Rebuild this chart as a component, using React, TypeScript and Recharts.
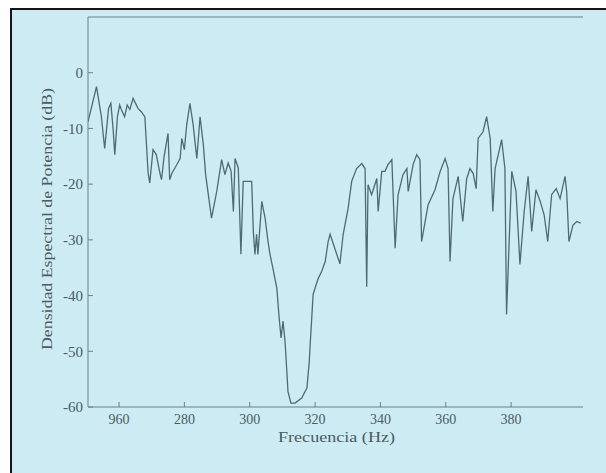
import { LineChart, Line, XAxis, YAxis, ReferenceLine, Label } from "recharts";

// Frequency (Hz) and PSD (dB)
const freqs = [
  250.5, 253.1, 254.6, 255.6, 256.8, 257.5, 258.2, 258.7, 259.5, 260.2,
  260.7, 261.7, 262.5, 263.3, 264.3, 265.8, 266.8, 267.9, 268.9, 269.4,
  270.4, 271.4, 272.5, 273.0, 273.8, 275.0, 275.5, 276.2, 277.1, 278.7,
  279.2, 280.0, 280.7, 281.7, 282.7, 283.8, 284.8, 285.8, 286.5, 288.3,
  289.9, 291.4, 292.4, 293.4, 294.3, 295.0, 295.5, 296.5, 297.3, 298.0,
  300.6, 301.1, 301.6, 302.1, 302.5, 303.7,
  304.7, 305.6, 306.2, 307.1, 308.3, 309.0, 309.6, 310.2, 310.8, 311.3,
  311.7, 312.6, 313.9, 315.9, 317.5, 318.2, 318.5, 319.4, 320.9, 322.0,
  323.1, 324.0, 324.6, 327.6, 328.6, 330.1, 331.2, 332.7, 334.3, 335.3,
  335.8, 336.2, 337.3, 338.9, 339.3, 340.4, 341.4, 342.3, 343.5, 344.5,
  345.4, 346.9, 348.1, 348.5, 350.0, 351.1, 352.1, 352.6, 354.6, 356.7,
  358.3, 359.8, 360.7, 361.3, 362.2, 363.8, 365.2, 366.4, 367.4, 368.4,
  369.3, 369.9, 371.4, 372.5, 373.6, 374.4, 375.1, 377.1, 378.1, 378.6,
  379.4, 380.2, 381.5, 382.7, 384.0, 385.2, 386.3, 387.6, 388.9, 390.1,
  391.2, 392.4, 393.8, 395.0, 396.5, 397.0, 397.7, 398.9, 400.1, 401.3,
];

const psd = [
  -8.8, -2.5, -7.9, -13.6, -6.4, -5.5, -10.2, -14.7, -7.9, -5.8,
  -6.6, -7.9, -5.8, -6.6, -4.6, -6.4, -7.0, -7.9, -18.0, -19.8,
  -13.8, -14.7, -18.0, -19.2, -15.0, -10.9, -19.2, -18.0, -17.1, -15.4,
  -11.8, -13.8, -9.4, -5.5, -9.4, -15.4, -7.9, -12.9, -18.3, -26.1,
  -21.3, -15.6, -18.3, -16.2, -17.7, -24.9, -15.4, -17.1, -32.6, -19.5,
  -19.5, -28.5, -32.6, -29.0, -32.6, -23.1,
  -26.1, -30.3, -32.6, -35.1, -38.7, -44.0, -47.6, -44.6, -48.2, -53.0,
  -57.2, -59.3, -59.3, -58.4, -56.6, -52.0, -48.8, -39.8, -37.0, -35.7,
  -33.9, -30.3, -29.0, -34.3, -29.0, -24.4, -19.5, -17.2, -16.3, -17.2,
  -38.4, -20.1, -21.9, -19.0, -24.9, -17.7, -17.7, -16.5, -15.6, -31.5,
  -21.9, -18.3, -17.2, -21.3, -16.5, -14.7, -15.6, -30.3, -23.7, -21.0,
  -17.7, -15.4, -17.2, -33.9, -22.6, -18.6, -26.7, -19.0, -17.2, -18.1,
  -20.8, -11.8, -10.6, -7.9, -11.8, -24.9, -17.2, -12.0, -17.2, -43.4,
  -30.3, -17.7, -21.3, -34.4, -24.9, -18.6, -28.5, -21.0, -23.1, -25.5,
  -30.3, -21.9, -20.8, -22.6, -18.6, -21.3, -30.3, -27.4, -26.7, -27.0,
];

const xTicks = [260, 280, 300, 320, 340, 360, 380];
const xTickLabels = ["960", "280", "300", "320", "340", "360", "380"];
const yTicks = [-60, -50, -40, -30, -20, -10, 0];

const data = freqs.map((f, i) => ({ f, db: psd[i] }));

const FONT = "'Liberation Serif', 'DejaVu Serif', serif";
const AXIS = "#6b8088";
const TEXT = "#4b5c62";

function XTitle({ viewBox }: any) {
  const cx = viewBox.x + viewBox.width / 2 + 1;
  return (
    <text x={cx} y={viewBox.y + 35} textAnchor="middle" fill={TEXT}
      fontFamily={FONT} fontSize={15} textLength={117} lengthAdjust="spacingAndGlyphs">
      Frecuencia (Hz)
    </text>
  );
}

function YTitle({ viewBox }: any) {
  const cy = viewBox.y + viewBox.height / 2 + 7;
  const cx = 52;
  return (
    <text x={cx} y={cy} textAnchor="middle" fill={TEXT} transform={`rotate(-90 ${cx} ${cy})`}
      fontFamily={FONT} fontSize={15} textLength={262} lengthAdjust="spacingAndGlyphs">
      Densidad Espectral de Potencia (dB)
    </text>
  );
}

export default function App() {
  return (
    <div style={{ position: "absolute", left: 0, top: 0, width: 606, height: 473, background: "#fff", overflow: "hidden" }}>
      <div
        style={{
          position: "absolute", left: 10, top: 8, width: 600, height: 470,
          background: "#cdebf2", borderLeft: "2px solid #151515", borderTop: "2px solid #151515",
        }}
      />
      <div style={{ position: "absolute", left: 0, top: 0 }}>
        <LineChart width={606} height={473} data={data} margin={{ top: 17, right: 23, bottom: 26, left: 0 }}>
          <XAxis
            dataKey="f" type="number" domain={[250.5, 402]} ticks={xTicks} allowDataOverflow
            tickFormatter={(v: number) => xTickLabels[xTicks.indexOf(v)]}
            height={40} tickSize={-5} tickMargin={12}
            stroke={AXIS} tick={{ fill: TEXT, fontSize: 14, fontFamily: FONT }}
          >
            <Label content={XTitle} />
          </XAxis>
          <YAxis
            yAxisId="l" type="number" domain={[-60, 10]} ticks={yTicks} allowDataOverflow
            width={88} tickSize={-5} tickMargin={10}
            stroke={AXIS} tick={{ fill: TEXT, fontSize: 15, fontFamily: FONT }}
          >
            <Label content={YTitle} />
          </YAxis>
          <YAxis
            yAxisId="r" orientation="right" type="number" domain={[-60, 10]} ticks={yTicks}
            width={0} tickSize={-5} tick={false} stroke={AXIS}
          />
          <ReferenceLine yAxisId="l" y={10} stroke={AXIS} />
          <Line
            yAxisId="l" type="linear" dataKey="db" stroke="#4f6a74" strokeWidth={1.3}
            dot={false} isAnimationActive={false}
          />
        </LineChart>
      </div>
    </div>
  );
}
